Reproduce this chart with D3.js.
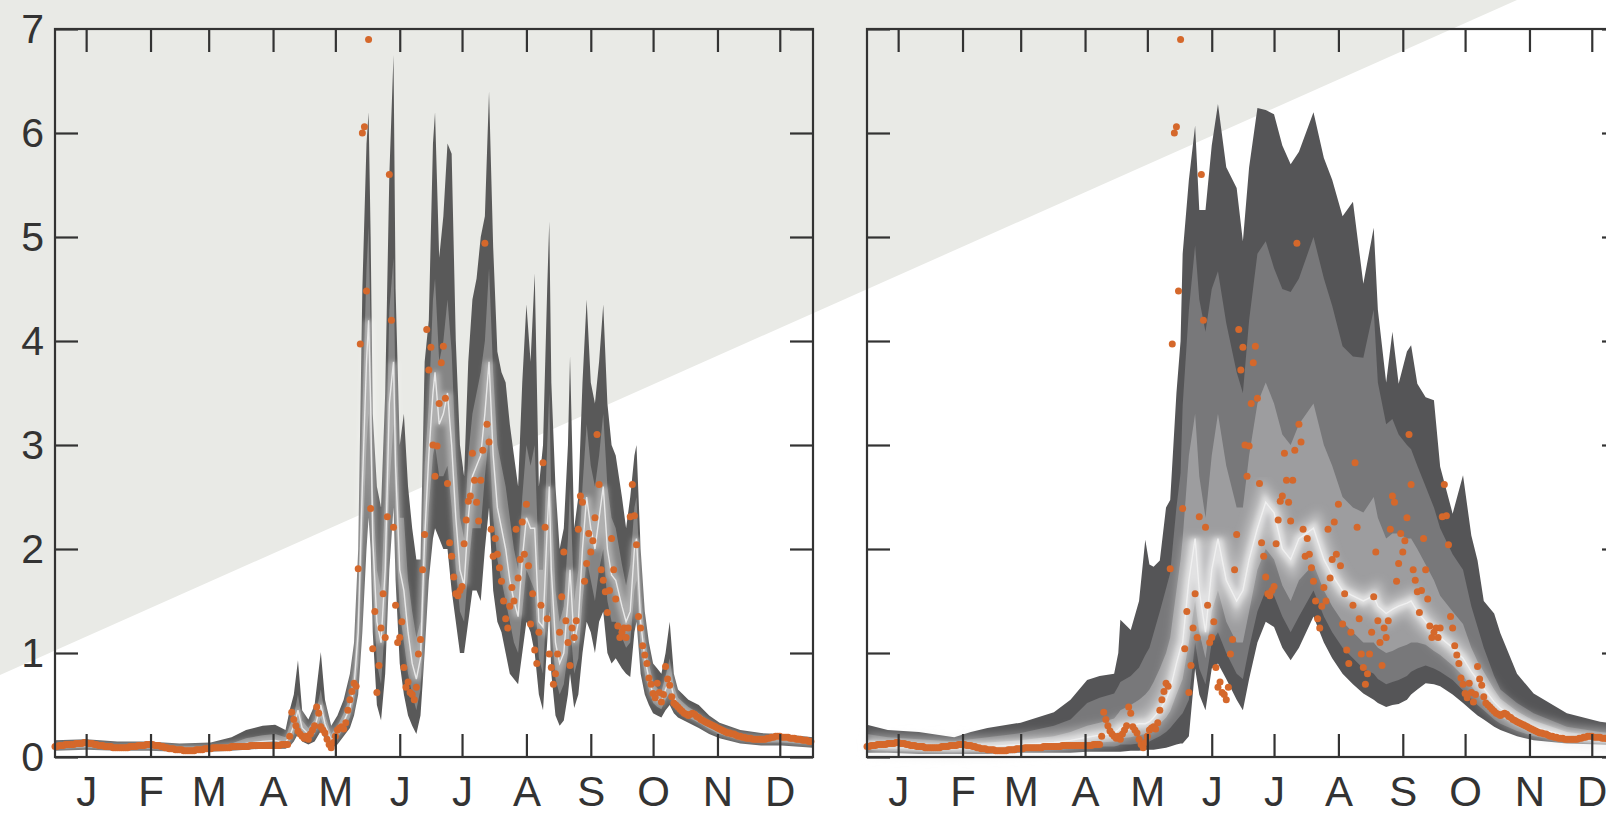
<!DOCTYPE html>
<html>
<head>
<meta charset="utf-8">
<script src="https://d3js.org/d3.v7.min.js"></script>
<style>
  body { margin: 0; background: #fff; }
  svg { display: block; }
  text { font-family: "Liberation Sans", Arial, sans-serif; fill: #333; }
</style>
</head>
<body>
<script>
const width = 1606, height = 816;

// month labels sit at mid-month
const months = ['J','F','M','A','M','J','J','A','S','O','N','D'];
const monthTicks = [15, 46, 74, 105, 135, 166, 196, 227, 258, 288, 319, 349];
const yTicks = [0, 1, 2, 3, 4, 5, 6, 7];

// observed daily values (orange dots), same in both panels
const obsJan = [0.10,0.10,0.11,0.11,0.11,0.12,0.12,0.12,0.12,0.12, 0.13,0.13,0.13,0.13,0.14,0.14,0.13,0.13,0.13,0.12, 0.12,0.11,0.11,0.11,0.10,0.10,0.10,0.10,0.09,0.09, 0.09];
const obsFeb = [0.09,0.09,0.09,0.09,0.09,0.10,0.10,0.10,0.10,0.11, 0.11,0.11,0.11,0.12,0.12,0.12,0.12,0.11,0.11,0.11, 0.10,0.10,0.09,0.09,0.08,0.08,0.08,0.07];
const obsMar = [0.07,0.07,0.07,0.06,0.06,0.06,0.06,0.06,0.06,0.07, 0.07,0.07,0.07,0.08,0.08,0.08,0.08,0.09,0.09,0.09, 0.09,0.09,0.09,0.09,0.09,0.09,0.10,0.10,0.10,0.10, 0.10];
const obsApr = [0.10,0.10,0.10,0.10,0.11,0.11,0.11,0.11,0.11,0.11, 0.11,0.11,0.11,0.11,0.11,0.11,0.11,0.11,0.11,0.12, 0.12,0.12,0.12,0.20,0.43,0.36,0.30,0.25,0.22,0.20];
const obsMay = [0.18,0.20,0.17,0.22,0.26,0.30,0.48,0.42,0.29,0.26, 0.23,0.17,0.12,0.09,0.14,0.20,0.26,0.28,0.29,0.27, 0.33,0.45,0.55,0.63,0.71,0.68,1.81,3.97,6.00,6.06, 4.48];
const obsJun = [6.90,2.39,1.04,1.40,0.62,0.88,1.24,1.57,1.15,2.31, 5.60,4.20,2.21,1.46,1.10,1.15,1.30,0.86,0.67,0.72, 0.62,0.60,0.55,0.67,0.99,1.13,1.80,2.14,4.11,3.72];
const obsJul = [3.94,3.00,2.70,2.99,3.40,3.79,3.95,3.45,2.63,2.06, 1.93,1.73,1.57,1.55,1.60,1.64,2.05,2.28,2.46,2.51, 2.92,2.66,2.45,2.27,2.66,2.95,4.94,3.20,3.03,2.19, 1.93];
const obsAug = [2.10,1.95,1.82,1.69,1.50,1.33,1.24,1.45,1.63,1.50, 2.19,1.72,1.90,2.26,1.95,2.43,1.84,1.28,1.57,1.03, 0.90,1.20,1.46,2.83,2.21,1.33,0.99,0.86,0.70,0.80, 0.99];
const obsSep = [1.20,1.54,1.97,1.31,1.10,0.88,1.24,1.15,1.31,2.19, 2.51,2.45,1.69,1.86,2.15,1.97,2.08,2.30,3.10,2.62, 1.80,1.70,1.59,1.39,1.60,2.10,1.80,1.52,1.26,1.15];
const obsOct = [1.20,1.24,1.15,1.24,2.31,2.62,2.32,2.04,1.35,1.24, 1.07,0.98,0.90,0.76,0.70,0.61,0.57,0.71,0.62,0.53, 0.60,0.87,0.75,0.69,0.58,0.52,0.50,0.48,0.46,0.44, 0.42];
const obsNov = [0.41,0.40,0.41,0.42,0.41,0.39,0.38,0.36,0.35,0.34, 0.33,0.32,0.31,0.30,0.29,0.28,0.27,0.26,0.25,0.24, 0.23,0.23,0.22,0.22,0.21,0.20,0.20,0.19,0.19,0.18];
const obsDec = [0.18,0.18,0.17,0.17,0.17,0.17,0.17,0.17,0.17,0.18, 0.18,0.19,0.19,0.20,0.20,0.20,0.19,0.19,0.19,0.19, 0.18,0.18,0.18,0.17,0.17,0.17,0.16,0.16,0.16,0.15, 0.15];

// left panel: narrow ensemble bands
const lDays = [0,15,30,45,60,75,85,92,100,106,
  111,113,115,117,119,122,125,128,130,133,
  136,139,142,144,146,148,150,151,152,153,
  155,157,159,161,163,164,166,168,170,172,
  174,176,178,180,182,183,185,187,189,191,
  193,195,197,199,201,203,205,207,209,211,
  213,215,217,219,221,223,225,227,229,231,
  233,235,237,238,239,241,243,245,247,248,
  250,252,254,256,258,260,262,264,266,268,
  270,273,275,277,279,280,282,284,286,288,
  290,292,294,296,298,300,305,310,315,320,
  330,340,350,365];
const lLo = [.06,.07,.06,.06,.05,.05,.06,.07,.08,.08,
  .08,.10,.15,.22,.15,.12,.15,.25,.17,.08,
  .12,.20,.28,.40,.60,1.2,2.0,2.3,2.0,1.2,
  .50,.35,.80,1.8,2.4,1.7,.90,.60,.40,.30,
  .22,.40,1.0,1.7,2.1,2.2,2.1,2.0,2.0,1.6,
  1.3,1.0,1.0,1.3,1.6,1.6,1.5,2.0,2.4,1.6,
  1.3,1.2,1.0,.80,.75,.70,1.0,1.3,1.2,1.0,
  .60,.45,1.1,1.4,.80,.40,.30,.35,.60,.80,
  .47,.60,1.0,1.3,1.2,1.0,1.3,1.4,1.0,.90,
  .95,.85,.80,.77,1.2,1.3,.80,.60,.50,.42,
  .40,.38,.45,.50,.42,.38,.33,.28,.22,.18,
  .13,.11,.11,.09];
const lP25 = [.08,.09,.08,.08,.07,.07,.08,.10,.11,.12,
  .11,.15,.22,.35,.22,.17,.22,.38,.25,.12,
  .18,.28,.38,.55,.90,2.0,3.0,3.3,2.8,1.7,
  .90,.70,1.3,2.6,3.2,2.3,1.4,1.1,.80,.60,
  .45,.65,1.6,2.4,2.9,3.0,2.7,2.7,2.8,2.4,
  1.8,1.4,1.3,1.8,2.2,2.2,2.2,2.7,3.1,2.3,
  1.9,1.7,1.5,1.3,1.1,1.0,1.4,1.8,1.7,1.6,
  .95,.80,1.6,2.0,1.3,.75,.60,.70,1.0,1.3,
  .80,.95,1.5,1.9,1.7,1.5,1.8,2.0,1.5,1.3,
  1.3,1.15,1.05,1.1,1.6,1.7,1.05,.80,.65,.52,
  .48,.46,.55,.62,.50,.45,.38,.33,.27,.22,
  .16,.14,.14,.12];
const lMed = [.10,.11,.09,.10,.08,.08,.10,.13,.15,.16,
  .14,.20,.30,.45,.28,.22,.28,.50,.32,.16,
  .24,.34,.47,.68,1.2,2.6,3.8,4.2,3.4,2.1,
  1.3,1.1,1.8,3.4,3.8,2.8,1.8,1.6,1.2,.90,
  .75,.95,2.1,2.9,3.5,3.7,3.2,3.3,3.5,3.0,
  2.3,1.8,1.65,2.3,2.7,2.8,2.9,3.3,3.8,2.9,
  2.4,2.2,2.0,1.7,1.5,1.35,1.9,2.3,2.2,2.2,
  1.3,1.25,2.2,2.6,1.8,1.1,.90,1.0,1.5,1.8,
  1.1,1.3,2.0,2.5,2.2,2.0,2.3,2.6,2.0,1.75,
  1.7,1.45,1.3,1.4,2.0,2.1,1.3,.95,.75,.60,
  .56,.54,.65,.75,.58,.50,.42,.37,.30,.25,
  .19,.17,.17,.14];
const lP75 = [.12,.13,.11,.12,.10,.10,.13,.18,.21,.22,
  .19,.30,.40,.60,.35,.28,.36,.65,.40,.22,
  .30,.42,.58,.85,1.5,3.3,4.7,5.1,4.1,2.6,
  1.8,1.6,2.5,4.3,4.8,3.4,2.3,2.3,1.7,1.4,
  1.15,1.3,2.8,3.4,4.4,4.6,3.8,4.0,4.4,3.9,
  2.9,2.3,2.1,2.9,3.3,3.5,3.7,4.0,4.7,3.7,
  3.0,2.8,2.6,2.3,2.0,1.8,2.5,3.0,2.8,3.0,
  1.8,1.8,3.0,3.5,2.5,1.6,1.3,1.45,2.1,2.6,
  1.5,1.8,2.6,3.2,2.8,2.6,2.9,3.3,2.6,2.3,
  2.2,1.85,1.65,1.85,2.4,2.5,1.6,1.15,.90,.72,
  .66,.63,.78,.95,.68,.57,.48,.42,.34,.28,
  .22,.19,.19,.16];
const lHi = [.16,.17,.15,.15,.13,.14,.19,.26,.30,.31,
  .26,.45,.60,.93,.45,.36,.50,1.01,.55,.30,
  .40,.55,.80,1.1,2.0,4.5,5.9,6.2,5.0,3.3,
  2.6,2.4,3.5,5.6,6.75,4.5,3.0,3.3,2.6,2.2,
  1.9,1.9,3.8,4.2,5.9,6.2,4.8,5.2,5.9,5.8,
  4.0,3.0,2.7,3.8,4.4,4.6,5.0,5.2,6.4,4.9,
  3.9,3.7,3.6,3.2,2.9,2.6,3.6,4.35,3.8,4.65,
  2.6,3.0,4.5,5.15,3.6,2.6,2.0,2.2,3.0,3.85,
  2.2,2.5,3.6,4.4,3.6,3.4,3.8,4.35,3.4,3.0,
  2.9,2.5,2.2,2.5,2.9,3.0,2.0,1.4,1.1,.90,
  .85,.80,1.0,1.3,.80,.65,.55,.50,.40,.33,
  .26,.23,.22,.19];

// right panel: wide ensemble bands
const rDays = [0,10,25,42,50,58,74,90,98,106,
  112,119,121,122,127,131,134,136,138,141,
  144,146,149,151,152,155,158,160,163,166,
  169,173,178,181,184,188,192,196,200,204,
  208,215,220,224,229,234,239,244,246,250,
  253,256,260,262,265,269,273,276,282,287,
  291,294,297,302,305,313,321,337,353,365];
const rLo = [.04,.04,.03,.03,.03,.03,.04,.04,.04,.05,
  .05,.05,.05,.05,.06,.06,.07,.07,.07,.08,
  .09,.10,.12,.13,.13,.20,.85,.60,.45,.85,
  .90,.75,.55,.45,.75,1.10,1.30,1.25,1.05,.93,
  1.05,1.35,1.10,.95,.80,.70,.61,.55,.52,.48,
  .50,.51,.55,.60,.65,.71,.70,.68,.60,.52,
  .45,.40,.36,.29,.26,.20,.16,.13,.12,.11];
const rP10 = [.07,.06,.05,.05,.05,.05,.06,.07,.08,.09,
  .10,.10,.11,.12,.12,.13,.14,.15,.17,.20,
  .24,.28,.35,.40,.42,.55,1.10,.85,.70,1.10,
  1.20,1.00,.80,.75,1.05,1.40,1.60,1.55,1.35,1.20,
  1.35,1.60,1.35,1.20,1.05,.95,.85,.80,.75,.70,
  .72,.74,.78,.82,.85,.88,.85,.82,.74,.64,
  .56,.50,.45,.36,.32,.25,.20,.15,.13,.13];
const rP25 = [.09,.08,.07,.07,.07,.08,.09,.10,.11,.13,
  .14,.15,.17,.18,.19,.21,.22,.24,.27,.32,
  .38,.44,.60,.70,.75,1.10,1.50,1.20,.95,1.40,
  1.60,1.30,1.10,1.10,1.40,1.80,2.00,1.90,1.65,1.50,
  1.70,1.85,1.60,1.45,1.30,1.20,1.10,1.10,1.05,1.00,
  1.02,1.05,1.08,1.10,1.10,1.08,1.02,.98,.88,.78,
  .68,.61,.54,.44,.39,.30,.24,.17,.15,.15];
const rMed = [.12,.11,.10,.09,.10,.10,.12,.14,.16,.19,
  .21,.23,.26,.28,.30,.32,.32,.34,.38,.45,
  .55,.65,.90,1.05,1.10,1.70,2.10,1.60,1.20,1.80,
  2.10,1.70,1.50,1.60,1.90,2.20,2.45,2.35,2.00,1.90,
  2.10,2.20,1.90,1.75,1.60,1.55,1.50,1.55,1.45,1.38,
  1.42,1.45,1.48,1.50,1.40,1.30,1.22,1.15,1.05,.95,
  .82,.74,.66,.53,.47,.36,.29,.20,.17,.16];
const rP75 = [.16,.15,.13,.12,.13,.14,.16,.20,.24,.30,
  .33,.37,.42,.45,.50,.55,.60,.65,.72,.85,
  1.00,1.15,1.60,1.90,2.10,2.90,3.30,2.70,2.30,2.90,
  3.30,2.80,2.40,2.40,2.90,3.40,3.60,3.40,3.10,3.00,
  3.20,3.40,3.00,2.80,2.50,2.40,2.35,2.50,2.30,2.10,
  2.15,2.15,2.10,2.10,2.00,1.85,1.70,1.55,1.40,1.28,
  1.05,.92,.82,.65,.56,.44,.35,.24,.20,.19];
const rP90 = [.22,.19,.17,.15,.17,.19,.23,.30,.36,.52,
  .57,.61,.68,.72,.78,.86,.98,1.05,1.19,1.40,
  1.62,1.77,2.40,2.73,3.38,4.30,4.92,4.40,4.09,4.50,
  4.67,4.17,3.70,3.50,4.20,4.84,4.96,4.70,4.50,4.47,
  4.60,5.00,4.60,4.34,3.95,3.85,3.84,4.30,3.60,3.20,
  3.25,3.10,3.00,2.96,2.80,2.60,2.40,2.20,1.95,1.80,
  1.45,1.25,1.05,.78,.65,.52,.42,.29,.24,.22];
const rHi = [.31,.26,.24,.19,.24,.28,.33,.43,.55,.74,
  .78,.80,1.00,1.32,1.22,1.50,2.09,1.85,1.83,1.89,
  2.40,2.47,3.50,4.00,4.84,5.55,6.07,5.26,5.26,5.88,
  6.28,5.67,5.47,4.96,5.67,6.24,6.22,6.18,5.88,5.70,
  5.82,6.20,5.76,5.55,5.20,5.34,4.55,5.09,4.30,3.60,
  4.09,3.59,3.90,3.96,3.59,3.46,3.43,2.79,2.34,2.71,
  2.13,1.89,1.50,1.38,1.19,.80,.61,.42,.34,.31];

const observed = [].concat(obsJan, obsFeb, obsMar, obsApr, obsMay, obsJun,
  obsJul, obsAug, obsSep, obsOct, obsNov, obsDec).map((v, i) => ({day: i, v: v}));

function makeRows(days, cols) {
  return days.map((d, i) => {
    const row = {day: d};
    for (const k in cols) row[k] = cols[k][i];
    return row;
  });
}
const leftRows = makeRows(lDays, {lo: lLo, p25: lP25, med: lMed, p75: lP75, hi: lHi});
const rightRows = makeRows(rDays, {lo: rLo, p10: rP10, p25: rP25, med: rMed, p75: rP75, p90: rP90, hi: rHi});

const svg = d3.select('body').append('svg')
  .attr('width', width)
  .attr('height', height);

const defs = svg.append('defs');
defs.append('filter').attr('id', 'glow')
  .attr('x', '-5%').attr('y', '-5%').attr('width', '110%').attr('height', '110%')
  .append('feGaussianBlur').attr('stdDeviation', 2.5);
defs.append('filter').attr('id', 'wideglow')
  .attr('x', '-5%').attr('y', '-10%').attr('width', '110%').attr('height', '120%')
  .append('feGaussianBlur').attr('stdDeviation', 5);

// pale diagonal backdrop
svg.append('path')
  .attr('d', 'M0,0L1517,0L0,675Z')
  .attr('fill', '#e9eae6');

const y = d3.scaleLinear().domain([0, 7]).range([757, 29]);

const panels = [
  {range: [55, 813], rows: leftRows, showLabels: true,
   layers: [['lo', 'hi', '#595959'], ['p25', 'p75', '#858585']],
   wide: 0, glow: 0.35},
  {range: [867, 1625], rows: rightRows, showLabels: false,
   layers: [['lo', 'hi', '#555557'], ['p10', 'p90', '#78787a'], ['p25', 'p75', '#9d9d9f']],
   wide: 0.45, glow: 0.55}
];

panels.forEach(p => {
  const x = d3.scaleLinear().domain([0, 365]).range(p.range);
  const g = svg.append('g');

  p.layers.forEach(([a, b, color]) => {
    const area = d3.area()
      .x(d => x(d.day))
      .y0(d => y(d[a]))
      .y1(d => y(d[b]));
    g.append('path')
      .datum(p.rows)
      .attr('d', area)
      .attr('fill', color);
  });

  const medLine = d3.line().x(d => x(d.day)).y(d => y(d.med));
  if (p.wide > 0) {
    g.append('path')
      .datum(p.rows)
      .attr('d', medLine)
      .attr('fill', 'none')
      .attr('stroke', '#e6e6e6')
      .attr('stroke-width', 22)
      .attr('stroke-opacity', p.wide)
      .attr('filter', 'url(#wideglow)');
  }
  g.append('path')
    .datum(p.rows)
    .attr('d', medLine)
    .attr('fill', 'none')
    .attr('stroke', '#ffffff')
    .attr('stroke-width', 9)
    .attr('stroke-opacity', p.glow)
    .attr('filter', 'url(#glow)');
  g.append('path')
    .datum(p.rows)
    .attr('d', medLine)
    .attr('fill', 'none')
    .attr('stroke', '#f2f2f2')
    .attr('stroke-width', 1.4)
    .attr('stroke-opacity', 0.85);

  g.selectAll('circle')
    .data(observed)
    .join('circle')
    .attr('cx', d => x(d.day))
    .attr('cy', d => y(d.v))
    .attr('r', 3.5)
    .attr('fill', '#d5682b');

  // axes: inward ticks on all four sides
  const axes = svg.append('g');

  const bottom = d3.axisBottom(x).tickValues(monthTicks)
    .tickSizeInner(-23).tickSizeOuter(0).tickPadding(19)
    .tickFormat((d, i) => months[i]);
  const top = d3.axisTop(x).tickValues(monthTicks)
    .tickSizeInner(-23).tickSizeOuter(0).tickFormat('');
  const left = d3.axisLeft(y).tickValues(yTicks)
    .tickSizeInner(-23).tickSizeOuter(0).tickPadding(11)
    .tickFormat(p.showLabels ? d3.format('d') : '');
  const right = d3.axisRight(y).tickValues(yTicks)
    .tickSizeInner(-23).tickSizeOuter(0).tickFormat('');

  const styleAxis = sel => {
    sel.select('.domain').remove();
    sel.selectAll('line').attr('stroke', '#333').attr('stroke-width', 2.2);
    sel.selectAll('text')
      .attr('fill', '#333')
      .style('font-family', '"Liberation Sans", Arial, sans-serif');
  };

  axes.append('g').attr('transform', `translate(0,${y(0)})`).call(bottom).call(styleAxis)
    .selectAll('text').style('font-size', '42px');
  axes.append('g').attr('transform', `translate(0,${y(7)})`).call(top).call(styleAxis);
  axes.append('g').attr('transform', `translate(${p.range[0]},0)`).call(left).call(styleAxis)
    .selectAll('text').style('font-size', '41px');
  axes.append('g').attr('transform', `translate(${p.range[1]},0)`).call(right).call(styleAxis);

  axes.append('rect')
    .attr('x', p.range[0])
    .attr('y', y(7))
    .attr('width', p.range[1] - p.range[0])
    .attr('height', y(0) - y(7))
    .attr('fill', 'none')
    .attr('stroke', '#333')
    .attr('stroke-width', 2.2);
});
</script>
</body>
</html>
